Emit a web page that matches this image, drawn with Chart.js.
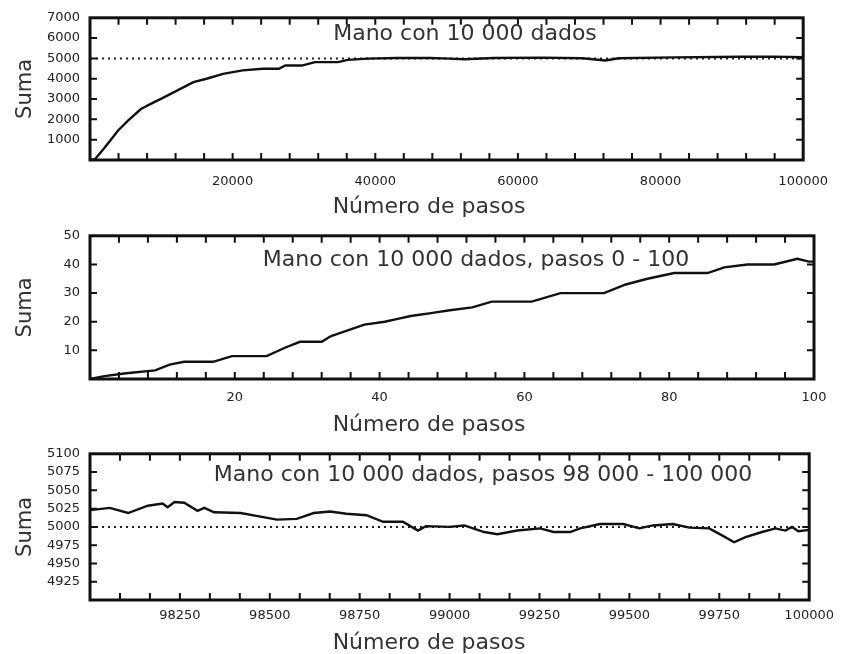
<!DOCTYPE html>
<html>
<head>
<meta charset="utf-8">
<script src="https://cdn.jsdelivr.net/npm/chart.js@4.4.0/dist/chart.umd.min.js"></script>
<style>
  html, body { margin: 0; padding: 0; background: #fff; }
  canvas { display: block; }
</style>
</head>
<body>
<canvas id="c1" width="842" height="218"></canvas>
<canvas id="c2" width="842" height="218"></canvas>
<canvas id="c3" width="842" height="218"></canvas>
<script>
// --- panel 1: pasos 0 - 100 000
const pasos1 = [0, 690, 2070, 3910, 5290, 7140, 8520, 10360, 12670, 14500, 16340, 18650, 21410, 24170, 26480, 27390, 29700, 31530, 34770, 36150, 38910, 43050, 47650, 50410, 52500, 56600, 63500, 69060, 72280, 74130, 81950, 91160, 95760, 100000];
const suma1 = [0, 40, 610, 1440, 1930, 2510, 2760, 3080, 3500, 3830, 4000, 4240, 4410, 4490, 4490, 4650, 4650, 4820, 4820, 4930, 4990, 5020, 5020, 4990, 4960, 5020, 5040, 5010, 4900, 5010, 5050, 5080, 5090, 5060];

// --- panel 2: pasos 0 - 100
const pasos2 = [0, 2, 5, 9, 11, 13, 17, 19.6, 24.4, 27, 29, 32, 33.3, 35.6, 37.9, 40.7, 42.5, 44.3, 47.1, 49.7, 52.8, 55.5, 61, 65, 71, 74, 77, 80.7, 82.6, 85.3, 87.6, 90.8, 94.5, 97.7, 99.3, 100];
const suma2 = [0, 1, 2, 3, 5, 6, 6, 8, 8, 11, 13, 13, 15, 17, 19, 20, 21, 22, 23, 24, 25, 27, 27, 30, 30, 33, 35, 37, 37, 37, 39, 40, 40, 42, 41, 41];

// --- panel 3: pasos 98 000 - 100 000
const pasos3 = [98000, 98055, 98106, 98161, 98202, 98216, 98235, 98262, 98299, 98318, 98345, 98419, 98474, 98520, 98575, 98622, 98668, 98713, 98769, 98815, 98870, 98912, 98934, 98999, 99041, 99096, 99133, 99188, 99252, 99289, 99335, 99363, 99418, 99483, 99528, 99565, 99621, 99667, 99722, 99759, 99791, 99823, 99869, 99906, 99934, 99952, 99970, 100000];
const suma3 = [5023, 5026, 5019, 5029, 5032, 5027, 5034, 5033, 5022, 5026, 5020, 5019, 5014, 5010, 5011, 5019, 5021, 5018, 5016, 5007, 5007, 4995, 5001, 5000, 5002, 4993, 4990, 4995, 4998, 4993, 4993, 4998, 5004, 5004, 4998, 5002, 5004, 4999, 4998, 4988, 4979, 4986, 4993, 4998, 4995, 5000, 4994, 4996];

// valor esperado (línea punteada)
const esperado = 5000;

// etiquetas de los ejes
const etiquetasX1 = [20000, 40000, 60000, 80000, 100000];
const etiquetasY1 = [1000, 2000, 3000, 4000, 5000, 6000, 7000];
const etiquetasX2 = [20, 40, 60, 80, 100];
const etiquetasY2 = [10, 20, 30, 40, 50];
const etiquetasX3 = [98250, 98500, 98750, 99000, 99250, 99500, 99750, 100000];
const etiquetasY3 = [4925, 4950, 4975, 5000, 5025, 5050, 5075, 5100];

const titulos = [
  'Mano con 10 000 dados',
  'Mano con 10 000 dados, pasos 0 - 100',
  'Mano con 10 000 dados, pasos 98 000 - 100 000'
];

function rango(min, max, paso) {
  const out = [];
  const n = Math.round((max - min) / paso);
  for (let i = 0; i <= n; i++) out.push(min + i * paso);
  return out;
}

function etiqueta(lista, tol) {
  return v => {
    const e = lista.find(l => Math.abs(l - v) < tol);
    return e === undefined ? '' : String(e);
  };
}

const tinta = '#222';
const fuenteTicks = { family: '"DejaVu Sans", Verdana, sans-serif', size: 13 };
const largoMarca = 7;

// marco grueso, marcas hacia dentro y textos dentro del panel
const marco = {
  id: 'marco',
  afterDraw(chart) {
    const o = chart.config.options.plugins.marco;
    const ctx = chart.ctx;
    const a = chart.chartArea;
    const sx = chart.scales.x, sy = chart.scales.y;
    ctx.save();
    ctx.setLineDash([]);
    ctx.strokeStyle = '#111';
    ctx.lineWidth = 2;
    ctx.beginPath();
    o.marcasX.forEach(v => {
      const p = sx.getPixelForValue(v);
      if (p > a.left + 2 && p < a.right - 2) {
        ctx.moveTo(p, a.bottom); ctx.lineTo(p, a.bottom - largoMarca);
        ctx.moveTo(p, a.top); ctx.lineTo(p, a.top + largoMarca);
      }
    });
    o.marcasY.forEach(v => {
      const p = sy.getPixelForValue(v);
      if (p > a.top + 2 && p < a.bottom - 2) {
        ctx.moveTo(a.left, p); ctx.lineTo(a.left + largoMarca, p);
        ctx.moveTo(a.right, p); ctx.lineTo(a.right - largoMarca, p);
      }
    });
    ctx.stroke();
    ctx.lineWidth = 3;
    ctx.strokeRect(a.left, a.top, a.right - a.left, a.bottom - a.top);

    ctx.fillStyle = '#333';
    ctx.font = '22px "DejaVu Sans", Verdana, sans-serif';
    ctx.textAlign = 'center';
    ctx.textBaseline = 'alphabetic';
    ctx.fillText(o.titulo, o.tituloX, a.top + o.tituloDy);
    ctx.fillText('Número de pasos', 429, 213);
    ctx.restore();
  }
};

function crearPanel(id, p) {
  const datasets = [{
    data: p.xs.map((v, i) => ({ x: v, y: p.ys[i] })),
    borderColor: '#111',
    borderWidth: 2.4,
    pointRadius: 0,
    tension: 0,
    order: 1
  }];
  if (p.referencia) {
    datasets.push({
      data: [{ x: p.xMin, y: esperado }, { x: p.xMax, y: esperado }],
      borderColor: '#222',
      borderWidth: 2,
      borderDash: [2, 4],
      pointRadius: 0,
      order: 2
    });
  }
  const marcasX = rango(p.xMin, p.xMax, p.xPaso);
  const marcasY = rango(p.yMin, p.yMax, p.yPaso);
  new Chart(document.getElementById(id), {
    type: 'line',
    data: { datasets },
    options: {
      responsive: false,
      animation: false,
      layout: { padding: { top: p.top, right: 28, left: 0, bottom: 0 } },
      plugins: {
        legend: { display: false },
        tooltip: { enabled: false },
        marco: { titulo: p.titulo, tituloX: p.tituloX, tituloDy: p.tituloDy, marcasX, marcasY }
      },
      scales: {
        x: {
          type: 'linear',
          min: p.xMin, max: p.xMax,
          grid: { display: false, drawTicks: false },
          border: { display: false },
          afterBuildTicks: s => { s.ticks = marcasX.map(v => ({ value: v })); },
          afterFit: s => { s.height = 218 - p.bottom; },
          ticks: {
            autoSkip: false, maxRotation: 0, color: tinta, font: fuenteTicks,
            padding: p.xPad,
            callback: etiqueta(p.xEtiquetas, p.xPaso / 10)
          }
        },
        y: {
          type: 'linear',
          min: p.yMin, max: p.yMax,
          grid: { display: false, drawTicks: false },
          border: { display: false },
          afterBuildTicks: s => { s.ticks = marcasY.map(v => ({ value: v })); },
          afterFit: s => { s.width = 90; },
          ticks: {
            autoSkip: false, color: tinta, font: fuenteTicks, padding: 10,
            callback: etiqueta(p.yEtiquetas, p.yPaso / 10)
          },
          title: {
            display: true, text: 'Suma', color: '#333',
            font: { family: '"DejaVu Sans", Verdana, sans-serif', size: 21 },
            padding: { top: 13, bottom: 0 }
          }
        }
      }
    },
    plugins: [marco]
  });
}

crearPanel('c1', {
  xs: pasos1, ys: suma1, referencia: true,
  xMin: 0, xMax: 100000, xPaso: 4000, xEtiquetas: etiquetasX1,
  yMin: 0, yMax: 7000, yPaso: 1000, yEtiquetas: etiquetasY1,
  top: 16, bottom: 160, xPad: 14,
  titulo: titulos[0], tituloX: 465, tituloDy: 22
});

crearPanel('c2', {
  xs: pasos2, ys: suma2, referencia: false,
  xMin: 0, xMax: 100, xPaso: 4, xEtiquetas: etiquetasX2,
  yMin: 0, yMax: 50, yPaso: 10, yEtiquetas: etiquetasY2,
  top: 17, bottom: 161, xPad: 11,
  titulo: titulos[1], tituloX: 476, tituloDy: 30
});

crearPanel('c3', {
  xs: pasos3, ys: suma3, referencia: true,
  xMin: 98000, xMax: 100000, xPaso: 250 / 3, xEtiquetas: etiquetasX3,
  yMin: 4900, yMax: 5100, yPaso: 25, yEtiquetas: etiquetasY3,
  top: 17, bottom: 164, xPad: 8,
  titulo: titulos[2], tituloX: 483, tituloDy: 27
});
</script>
</body>
</html>
